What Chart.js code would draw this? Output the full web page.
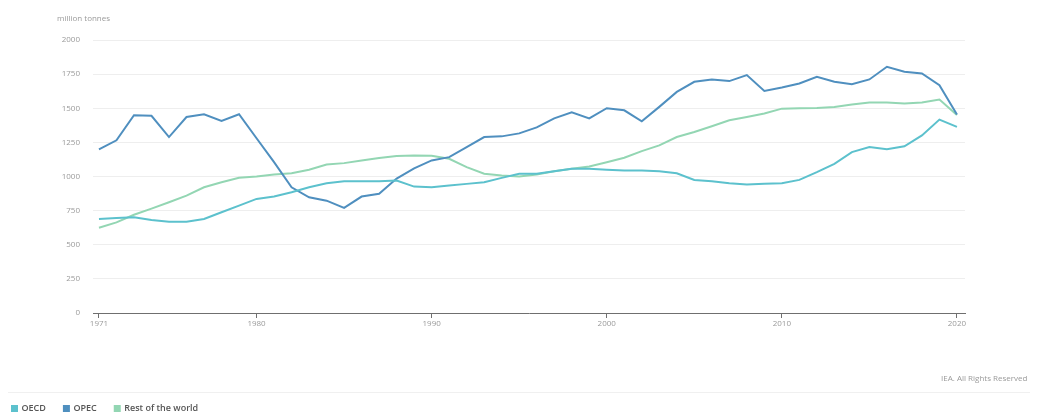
<!DOCTYPE html>
<html lang="en">
<head>
    <meta charset="UTF-8">
    <title>Crude oil production by region</title>
    <script src="https://cdn.jsdelivr.net/npm/chart.js"></script>
    <style>
        body { margin: 0; width: 1040px; height: 414px; overflow: hidden; background: #fff; font-family: "Open Sans", Arial, sans-serif; }
        .wrap { position: relative; width: 1040px; height: 423px; }
        .unit { position: absolute; left: 57px; top: 12px; font-size: 8px; color: #9a9a9a; }
        .credit { position: absolute; left: 941px; top: 372px; font-size: 8px; color: #9a9a9a; white-space: nowrap; }
        .sep { position: absolute; left: 8px; right: 10px; top: 392px; border-top: 1px solid #f0f0f0; }
    </style>
</head>
<body>
    <div class="wrap">
        <canvas id="chart"></canvas>
        <div class="unit">million tonnes</div>
        <div class="credit">IEA. All Rights Reserved</div>
        <div class="sep"></div>
    </div>

    <script>
        // years 1971..2020
        const years = [];
        for (let y = 1971; y <= 2020; y++) years.push(y);

        const oecd = [689, 696, 701, 681, 669, 669, 689, 738, 787, 836,
                      853, 885, 921, 951, 966, 966, 966, 971, 926, 921,
                      934, 946, 958, 990, 1020, 1020, 1039, 1056, 1056, 1049,
                      1044, 1044, 1039, 1024, 975, 966, 951, 941, 946, 951,
                      975, 1032, 1093, 1179, 1216, 1199, 1221, 1301, 1417, 1363];

        const opec = [1199, 1265, 1449, 1445, 1289, 1436, 1456, 1407, 1456, 1280,
                      1105, 921, 848, 823, 770, 853, 873, 985, 1059, 1118,
                      1142, 1216, 1289, 1294, 1316, 1360, 1426, 1470, 1426, 1500,
                      1485, 1404, 1510, 1620, 1694, 1711, 1699, 1743, 1627, 1652,
                      1681, 1730, 1694, 1676, 1711, 1804, 1767, 1755, 1669, 1455];

        const rest = [625, 664, 720, 765, 811, 860, 921, 958, 990, 1000,
                      1015, 1024, 1049, 1088, 1098, 1118, 1135, 1150, 1154, 1152,
                      1130, 1069, 1020, 1007, 1000, 1015, 1039, 1056, 1074, 1105,
                      1137, 1186, 1228, 1289, 1326, 1368, 1412, 1436, 1461, 1497,
                      1500, 1502, 1510, 1527, 1542, 1542, 1534, 1542, 1564, 1450];

        const xTicks = [1971, 1980, 1990, 2000, 2010, 2020];
        const yTicks = [0, 250, 500, 750, 1000, 1250, 1500, 1750, 2000];

        function pts(values) {
            return values.map((v, i) => ({ x: years[i], y: v }));
        }

        const tickFont = { family: '"Open Sans", Arial, sans-serif', size: 8 };

        new Chart(document.getElementById('chart'), {
            type: 'line',
            data: {
                datasets: [
                    { label: 'OECD', data: pts(oecd), borderColor: '#5cc1cd', backgroundColor: '#5cc1cd' },
                    { label: 'OPEC', data: pts(opec), borderColor: '#4f8fbf', backgroundColor: '#4f8fbf' },
                    { label: 'Rest of the world', data: pts(rest), borderColor: '#93d6b3', backgroundColor: '#93d6b3' }
                ]
            },
            options: {
                responsive: true,
                maintainAspectRatio: false,
                animation: false,
                layout: { padding: { left: -6, right: 75, top: 40, bottom: 0 } },
                elements: {
                    point: { radius: 0 },
                    line: { borderWidth: 2, tension: 0 }
                },
                scales: {
                    x: {
                        type: 'linear',
                        min: 1970.66,
                        max: 2020.46,
                        afterBuildTicks: (scale) => { scale.ticks = xTicks.map(v => ({ value: v })); },
                        afterFit: (scale) => { scale.height = 73; },
                        border: { display: true, color: '#6f6f6f', width: 1 },
                        grid: { drawOnChartArea: false, drawTicks: true, tickLength: 5, tickColor: '#6f6f6f' },
                        ticks: { color: '#9a9a9a', font: tickFont, padding: 1, maxRotation: 0, callback: (v) => String(v) }
                    },
                    y: {
                        min: 0,
                        max: 2000,
                        afterBuildTicks: (scale) => { scale.ticks = yTicks.map(v => ({ value: v })); },
                        afterFit: (scale) => { scale.width = 99; },
                        border: { display: false },
                        grid: { color: '#eeeeee', drawTicks: false },
                        ticks: { color: '#9a9a9a', font: tickFont, padding: 13, callback: (v) => String(v) }
                    }
                },
                plugins: {
                    legend: {
                        position: 'bottom',
                        align: 'start',
                        labels: {
                            boxWidth: 5,
                            boxHeight: 5,
                            padding: 18,
                            color: '#555',
                            font: { family: '"Open Sans", Arial, sans-serif', size: 9, weight: '600' }
                        }
                    },
                    tooltip: { enabled: false }
                }
            }
        });
    </script>
</body>
</html>
